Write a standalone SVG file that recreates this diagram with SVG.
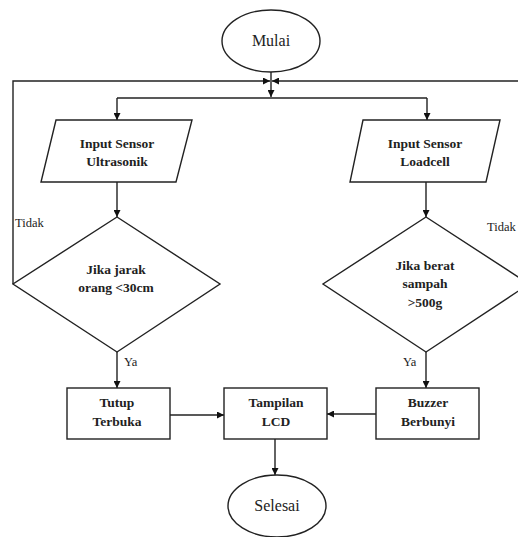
<svg xmlns="http://www.w3.org/2000/svg" width="518" height="537" viewBox="0 0 518 537">
<defs>
<marker id="ah" viewBox="0 0 10 10" refX="10" refY="5" markerWidth="7" markerHeight="7" markerUnits="userSpaceOnUse" orient="auto">
<path d="M0,0 L10,5 L0,10 z" fill="#111"/>
</marker>
</defs>
<style>
.shape{fill:#fff;stroke:#222;stroke-width:1.4}
.line{fill:none;stroke:#222;stroke-width:1.4}
.b{font-family:'Liberation Serif','Times New Roman','DejaVu Serif',serif;font-weight:700;font-size:13.5px;fill:#222;text-anchor:middle}
.t{font-family:'Liberation Serif','Times New Roman',serif;font-size:16px;fill:#222;text-anchor:middle}
.l{font-family:'Liberation Serif','Times New Roman',serif;font-size:12.5px;fill:#222}
</style>
<rect width="518" height="537" fill="#fff"/>
<g id="connectors">
<path class="line" d="M271,72 V97" marker-end="url(#ah)"/>
<path class="line" d="M13,284 V81 H270" marker-end="url(#ah)"/>
<path class="line" d="M518,81 H272" marker-end="url(#ah)"/>
<path class="line" d="M117,98 H427"/>
<path class="line" d="M117,98 V120" marker-end="url(#ah)"/>
<path class="line" d="M427,98 V120" marker-end="url(#ah)"/>
<path class="line" d="M117,182 V217" marker-end="url(#ah)"/>
<path class="line" d="M426,182 V217" marker-end="url(#ah)"/>
<path class="line" d="M117,352 V388" marker-end="url(#ah)"/>
<path class="line" d="M426,352 V388" marker-end="url(#ah)"/>
<path class="line" d="M170,415 H224" marker-end="url(#ah)"/>
<path class="line" d="M376,414 H327" marker-end="url(#ah)"/>
<path class="line" d="M275,439 V475" marker-end="url(#ah)"/>
<text class="l" x="15" y="227">Tidak</text>
<text class="l" x="487" y="231">Tidak</text>
<text class="l" x="124" y="366">Ya</text>
<text class="l" x="403" y="366">Ya</text>
</g>
<g id="mulai">
<ellipse class="shape" cx="271" cy="41" rx="49" ry="31"/>
<text class="t" x="271" y="46">Mulai</text>
</g>
<g id="input-ultrasonik">
<polygon class="shape" points="56,120 192,120 176,182 41,182"/>
<text class="b" x="117" y="148">Input Sensor</text>
<text class="b" x="117" y="166">Ultrasonik</text>
</g>
<g id="input-loadcell">
<polygon class="shape" points="363,120 500,120 486,182 350,182"/>
<text class="b" x="425" y="148">Input Sensor</text>
<text class="b" x="425" y="166">Loadcell</text>
</g>
<g id="cek-jarak">
<polygon class="shape" points="117,217 220,284 117,352 13,284"/>
<text class="b" x="116" y="274">Jika jarak</text>
<text class="b" x="116" y="292">orang &lt;30cm</text>
</g>
<g id="cek-berat">
<polygon class="shape" points="426,217 529,284 426,352 323,284"/>
<text class="b" x="425" y="270">Jika berat</text>
<text class="b" x="425" y="288">sampah</text>
<text class="b" x="425" y="307">&gt;500g</text>
</g>
<g id="tutup-terbuka">
<rect class="shape" x="67" y="388" width="103" height="51"/>
<text class="b" x="117" y="407">Tutup</text>
<text class="b" x="117" y="426">Terbuka</text>
</g>
<g id="tampilan-lcd">
<rect class="shape" x="224" y="388" width="103" height="51"/>
<text class="b" x="276" y="407">Tampilan</text>
<text class="b" x="276" y="426">LCD</text>
</g>
<g id="buzzer">
<rect class="shape" x="376" y="388" width="103" height="51"/>
<text class="b" x="428" y="407">Buzzer</text>
<text class="b" x="428" y="426">Berbunyi</text>
</g>
<g id="selesai">
<ellipse class="shape" cx="277" cy="506" rx="49" ry="31"/>
<text class="t" x="277" y="511">Selesai</text>
</g>
</svg>
